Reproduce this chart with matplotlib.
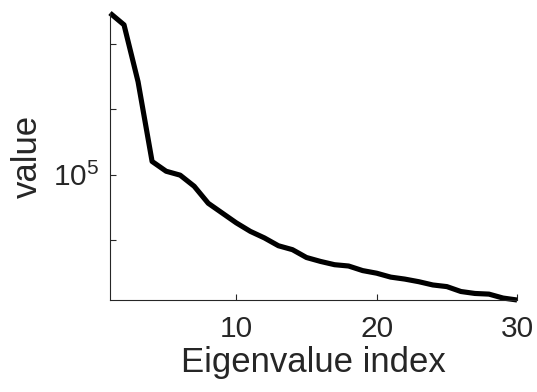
import matplotlib
matplotlib.use("Agg")
import matplotlib.pyplot as plt
import numpy as np

plt.rcParams['font.family'] = ['Liberation Sans', 'DejaVu Sans']
plt.rcParams['mathtext.fontset'] = 'custom'
plt.rcParams['mathtext.rm'] = 'Liberation Sans'

# data: eigenvalue index and log10 of eigenvalue
index = list(range(1, 31))
log10_values = [7.47, 7.29, 6.42, 5.20, 5.05, 4.99, 4.82, 4.56, 4.41, 4.26,
                4.13, 4.03, 3.91, 3.85, 3.73, 3.67, 3.62, 3.60, 3.53, 3.49,
                3.43, 3.40, 3.36, 3.31, 3.285, 3.21, 3.18, 3.17, 3.11, 3.08]
values = [10 ** v for v in log10_values]

x_ticks = [10, 20, 30]
y_ticks = [1e4, 1e5, 1e6, 1e7]
y_ticklabels = ['', r'$\mathregular{10^5}$', '', '']

gray = '#262626'
fig = plt.figure(figsize=(5.37, 3.92), dpi=100)
ax = fig.add_axes([0.2048, 0.2347, 0.758, 0.732])
ax.plot(index, values, color='black', linewidth=3.7, solid_joinstyle='round',
        solid_capstyle='butt', clip_on=False)
ax.set_yscale('log')
ax.set_xlim(min(index), max(index))
ax.set_ylim(min(values), max(values))
ax.set_xticks(x_ticks)
ax.set_yticks(y_ticks)
ax.set_yticklabels(y_ticklabels)
ax.yaxis.set_minor_locator(matplotlib.ticker.NullLocator())
ax.tick_params(direction='in', length=4, width=0.8, color=gray, labelcolor=gray,
               labelsize=21.5)
ax.tick_params(axis='x', pad=11)
ax.tick_params(axis='y', pad=8)
for s in ['top', 'right']:
    ax.spines[s].set_visible(False)
for s in ['left', 'bottom']:
    ax.spines[s].set_color(gray)
    ax.spines[s].set_linewidth(0.8)
ax.set_xlabel('Eigenvalue index', fontsize=25, color=gray, labelpad=2)
ax.set_ylabel('value', fontsize=25, color=gray, labelpad=6)
fig.savefig('out.png', dpi=100)
